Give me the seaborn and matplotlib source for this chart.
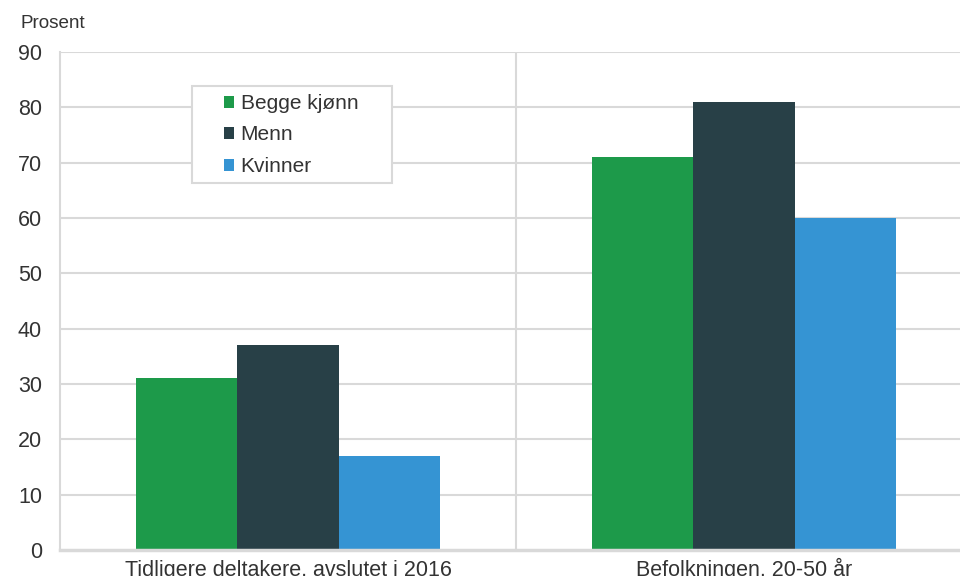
import matplotlib
matplotlib.use("Agg")
import matplotlib.pyplot as plt
from matplotlib.patches import Rectangle
import pandas as pd
import seaborn as sns

categories = ["Tidligere deltakere, avslutet i 2016", "Befolkningen, 20-50 år"]
groups = ["Begge kjønn", "Menn", "Kvinner"]
begge = [31, 71]
menn = [37, 81]
kvinner = [17, 60]
colors = ["#1d9a4a", "#284047", "#3594d3"]

df = pd.DataFrame({
    "kategori": categories * 3,
    "gruppe": [g for g in groups for _ in categories],
    "prosent": begge + menn + kvinner,
})

sns.set_theme(style="white")
plt.rcParams["font.family"] = ["Liberation Sans", "DejaVu Sans"]

fig = plt.figure(figsize=(9.6, 5.76), dpi=100)
ax = fig.add_axes([60 / 960, 1 - 550 / 576, 912 / 960, 498 / 576])

sns.barplot(data=df, x="kategori", y="prosent", hue="gruppe", hue_order=groups,
            palette=colors, width=0.667, saturation=1, linewidth=0, ax=ax, zorder=3)

ax.set_ylim(0, 90)
ax.set_xlim(-0.5, 1.5)
ax.set_yticks(range(0, 91, 10))
ax.set_xlabel("")
ax.set_ylabel("")
ax.tick_params(axis="both", length=0, labelsize=15.5, colors="#333333")
ax.tick_params(axis="y", pad=13)
ax.tick_params(axis="x", pad=18.5)
for lab in ax.get_xticklabels():
    lab.set_verticalalignment("baseline")

for y in range(10, 91, 10):
    ax.axhline(y, color="#d9d9d9", lw=1.5, zorder=1)
ax.axvline(0.5, color="#d9d9d9", lw=1.5, zorder=1)

for side in ["top", "right"]:
    ax.spines[side].set_visible(False)
ax.spines["left"].set_color("#d9d9d9")
ax.spines["left"].set_linewidth(1.5)
ax.spines["bottom"].set_color("#d9d9d9")
ax.spines["bottom"].set_linewidth(2.5)
ax.spines["bottom"].set_zorder(4)

fig.text(20 / 960, 1 - 23 / 576, "Prosent", fontsize=13.6, color="#333333", va="center")

# legend box
box = Rectangle((192 / 960, 1 - 183 / 576), 200 / 960, 97 / 576, transform=fig.transFigure,
                facecolor="white", edgecolor="#d9d9d9", lw=1.5, zorder=5, clip_on=False)
ax.add_patch(box)

handles, labels = ax.get_legend_handles_labels()
leg = ax.legend(handles, labels, loc="upper left", bbox_to_anchor=(224 / 960, 1 - 94 / 576),
                bbox_transform=fig.transFigure, frameon=False, fontsize=15,
                handlelength=0.5, handleheight=0.5, handletextpad=0.3,
                labelspacing=0.6, borderaxespad=0, borderpad=0)
leg.set_zorder(6)
for t in leg.get_texts():
    t.set_color("#333333")

fig.savefig("out.png", dpi=100)
